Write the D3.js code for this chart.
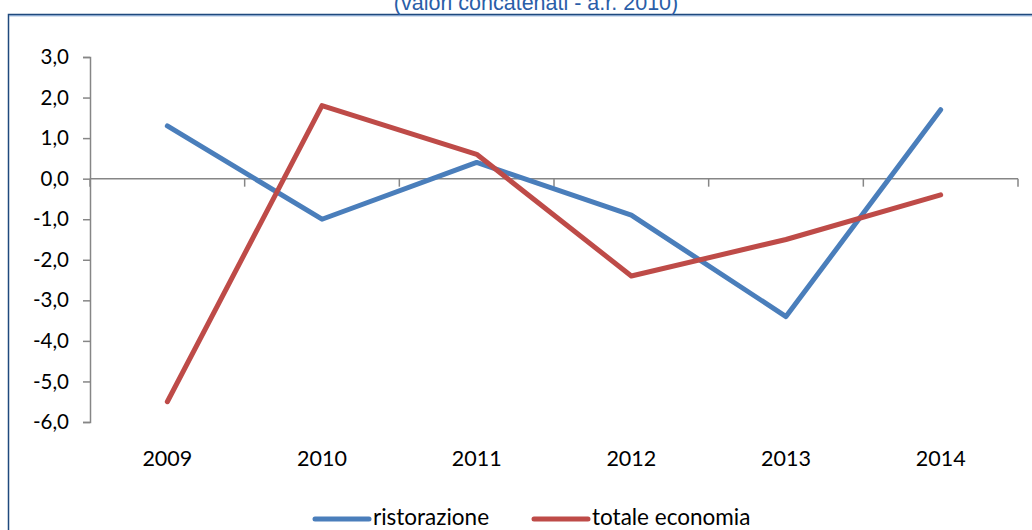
<!DOCTYPE html>
<html>
<head>
<meta charset="utf-8">
<script src="https://cdn.jsdelivr.net/npm/d3@7/dist/d3.min.js"></script>
<style>
  html, body { margin: 0; padding: 0; background: #fff; }
  svg { display: block; }
</style>
</head>
<body>
<svg id="chart" width="1032" height="530"></svg>
<script>
const categories = ["2009", "2010", "2011", "2012", "2013", "2014"];
const ristorazione = [1.3, -1.0, 0.4, -0.9, -3.4, 1.7];
const totaleEconomia = [-5.5, 1.8, 0.6, -2.4, -1.5, -0.4];
const yTicks = [3, 2, 1, 0, -1, -2, -3, -4, -5, -6];
const seriesNames = ["ristorazione", "totale economia"];
const seriesColors = ["#4a7ebb", "#be4b48"];
const subtitle = "(valori concatenati - a.r. 2010)";

const svg = d3.select("#chart");
const fmt = v => d3.format(".1f")(v).replace(".", ",").replace("−", "-");

// frame
svg.append("rect").attr("x", 8.5).attr("y", 14.5).attr("width", 1100).attr("height", 600)
  .attr("fill", "none").attr("stroke", "#1f497d").attr("stroke-width", 1.5);
svg.append("line").attr("x1", 9).attr("x2", 1032).attr("y1", 15.8).attr("y2", 15.8)
  .attr("stroke", "#6f96c8").attr("stroke-width", 1);

// subtitle (cut off at top, as in the reference)
svg.append("text").attr("x", 536).attr("y", 10).attr("text-anchor", "middle")
  .attr("font-family", "Liberation Sans, Arial, sans-serif").attr("font-size", 21.5)
  .attr("fill", "#2a5ea8").text(subtitle);

const x = d3.scaleBand().domain(categories).range([90, 1018]).padding(0);
const y = d3.scaleLinear().domain([-6, 3]).range([422, 57]);

const axisColor = "#868686";
const labelFont = "Lato, 'Open Sans', sans-serif";

// y axis
const yAxis = d3.axisLeft(y).tickValues(yTicks).tickFormat(fmt).tickSize(7).tickPadding(14);
const gy = svg.append("g").attr("transform", "translate(90,0)").call(yAxis);
gy.select(".domain").attr("stroke", axisColor).attr("stroke-width", 1.5);
gy.selectAll(".tick line").attr("stroke", axisColor).attr("stroke-width", 1.5);
gy.selectAll(".tick text").attr("font-family", labelFont).attr("font-size", 20.5).attr("fill", "#000");

// x axis at y=0 with boundary ticks
const gx = svg.append("g").attr("transform", `translate(0,${y(0)})`);
gx.append("line").attr("x1", 90).attr("x2", 1018).attr("y1", 0).attr("y2", 0)
  .attr("stroke", axisColor).attr("stroke-width", 1.5);
const bounds = categories.map(c => x(c)).concat([x(categories[categories.length - 1]) + x.bandwidth()]);
gx.selectAll("line.bt").data(bounds).enter().append("line").attr("class", "bt")
  .attr("x1", d => d).attr("x2", d => d).attr("y1", 0).attr("y2", 8)
  .attr("stroke", axisColor).attr("stroke-width", 1.5);

// x labels at bottom
svg.append("g").selectAll("text").data(categories).enter().append("text")
  .attr("x", d => x(d) + x.bandwidth() / 2).attr("y", 466)
  .attr("text-anchor", "middle").attr("font-family", labelFont).attr("font-size", 21.5)
  .attr("fill", "#000").text(d => d);

// lines
const line = d3.line().x((d, i) => x(categories[i]) + x.bandwidth() / 2).y(d => y(d));
[ristorazione, totaleEconomia].forEach((s, k) => {
  svg.append("path").datum(s).attr("d", line).attr("fill", "none")
    .attr("stroke", seriesColors[k]).attr("stroke-width", 5)
    .attr("stroke-linecap", "round").attr("stroke-linejoin", "round");
});

// legend
const legendItems = [{x1: 315, x2: 369, tx: 373}, {x1: 534, x2: 588, tx: 592}];
legendItems.forEach((p, k) => {
  svg.append("line").attr("x1", p.x1).attr("x2", p.x2).attr("y1", 519).attr("y2", 519)
    .attr("stroke", seriesColors[k]).attr("stroke-width", 5).attr("stroke-linecap", "round");
  svg.append("text").attr("x", p.tx).attr("y", 525).attr("font-family", labelFont)
    .attr("font-size", 22.5).attr("fill", "#000").text(seriesNames[k]);
});
</script>
</body>
</html>
